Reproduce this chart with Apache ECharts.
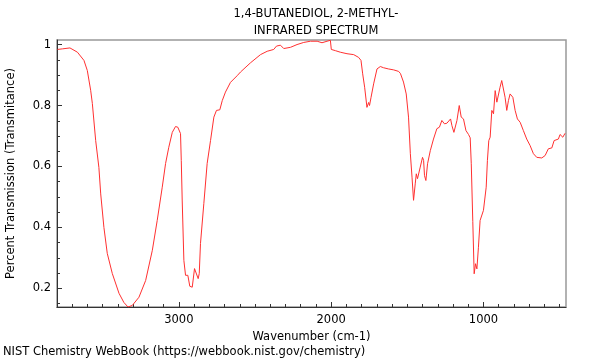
<!DOCTYPE html>
<html>
<head>
<meta charset="utf-8">
<script src="https://cdn.jsdelivr.net/npm/echarts@6/dist/echarts.min.js"></script>
<style>html,body{margin:0;padding:0;background:#fff}#c{width:600px;height:360px}</style>
</head>
<body>
<div id="c"></div>
<script>
const titleLines = ["1,4-BUTANEDIOL, 2-METHYL-", "INFRARED SPECTRUM"];
const xAxisName = "Wavenumber (cm-1)";
const yAxisName = "Percent Transmission (Transmitance)";
const footer = "NIST Chemistry WebBook (https://webbook.nist.gov/chemistry)";
const xMajorTicks = [1000, 2000, 3000];
const yMajorTicks = [0.2, 0.4, 0.6, 0.8, 1];
const xRange = [458, 3800];
const yRange = [0.139, 1.015];

const wavenumber = [3797,3763,3715,3666,3623,3601,3579,3568,3546,3525,3513,3492,3470,3437,3393,3361,3334,3306,3262,3218,3174,3142,3109,3087,3066,3043,3022,3007,2989,2984,2978,2967,2956,2941,2928,2912,2897,2884,2873,2866,2858,2836,2814,2792,2770,2753,2731,2715,2694,2661,2617,2595,2530,2464,2420,2377,2359,2333,2311,2267,2224,2180,2136,2092,2060,2027,2005,1999,1988,1972,1940,1896,1852,1820,1804,1793,1780,1765,1754,1748,1738,1721,1699,1677,1656,1623,1590,1557,1545,1525,1507,1492,1480,1469,1459,1448,1441,1433,1415,1400,1393,1387,1378,1367,1349,1328,1306,1289,1273,1256,1240,1229,1216,1207,1194,1186,1174,1159,1146,1131,1115,1098,1087,1080,1070,1061,1052,1043,1033,1022,1011,1000,982,974,965,956,945,938,934,923,912,902,891,880,869,858,847,836,825,807,792,777,759,738,716,694,672,650,617,595,574,551,536,508,497,479,464];
const transmittance = [0.984,0.986,0.989,0.975,0.948,0.915,0.85,0.807,0.685,0.597,0.51,0.40,0.315,0.249,0.184,0.154,0.139,0.144,0.171,0.226,0.325,0.423,0.532,0.61,0.663,0.712,0.731,0.729,0.708,0.62,0.49,0.292,0.243,0.243,0.207,0.204,0.265,0.259,0.232,0.249,0.347,0.478,0.61,0.685,0.762,0.784,0.786,0.816,0.844,0.876,0.898,0.91,0.94,0.967,0.978,0.984,0.995,0.998,0.987,0.991,1.0,1.007,1.011,1.011,1.006,1.011,1.014,0.984,0.98,0.98,0.975,0.97,0.967,0.958,0.948,0.904,0.86,0.794,0.81,0.80,0.827,0.871,0.92,0.928,0.924,0.92,0.917,0.912,0.905,0.877,0.838,0.762,0.642,0.565,0.489,0.543,0.576,0.56,0.598,0.63,0.62,0.57,0.554,0.609,0.652,0.69,0.724,0.729,0.751,0.74,0.742,0.738,0.756,0.734,0.712,0.709,0.751,0.80,0.762,0.756,0.718,0.705,0.694,0.609,0.42,0.248,0.281,0.264,0.335,0.423,0.417,0.456,0.532,0.62,0.685,0.696,0.784,0.789,0.773,0.849,0.811,0.806,0.86,0.882,0.876,0.827,0.784,0.816,0.838,0.827,0.784,0.756,0.745,0.718,0.69,0.669,0.642,0.63,0.628,0.636,0.658,0.661,0.685,0.69,0.705,0.696,0.709];

const xMinorTicks = [];
for (let v = 500; v <= 3800; v += 100) xMinorTicks.push(v);
const yMinorTicks = [];
for (let v = 15; v <= 100; v += 5) yMinorTicks.push(v / 100);

const data = wavenumber.map((w, i) => [w, transmittance[i]]);
const font = 'DejaVu Sans';
const fs = 11.5;
const chart = echarts.init(document.getElementById('c'), null, {renderer: 'canvas'});
const gridPos = {left: 57, right: 34, top: 40, bottom: 53};
chart.setOption({
  animation: false,
  backgroundColor: '#fff',
  title: {
    text: titleLines.join('\n'),
    left: 311, top: 1, textAlign: 'center',
    textStyle: {fontFamily: font, fontSize: fs, fontWeight: 'normal', color: '#000', lineHeight: 17}
  },
  graphic: [{
    type: 'text', left: 3, top: 346,
    style: {text: footer, fontFamily: font, fontSize: fs, fill: '#000'}
  }],
  grid: Object.assign({show: true, borderColor: '#999', borderWidth: 1.5, backgroundColor: 'transparent',
    containLabel: false, outerBoundsMode: 'none'}, gridPos),
  xAxis: [{
    type: 'value', inverse: true, min: xRange[0], max: xRange[1],
    position: 'bottom',
    name: xAxisName, nameLocation: 'middle', nameGap: 20,
    nameTextStyle: {fontFamily: font, fontSize: fs, color: '#000'},
    axisLine: {show: true, onZero: false, lineStyle: {color: '#333', width: 1}},
    axisTick: {show: true, inside: true, length: 5, customValues: xMajorTicks, lineStyle: {color: '#333'}},
    axisLabel: {show: true, customValues: xMajorTicks, margin: 7, fontFamily: font, fontSize: fs, color: '#000',
      formatter: v => String(v)},
    splitLine: {show: false}
  }, {
    type: 'value', inverse: true, min: xRange[0], max: xRange[1],
    position: 'bottom',
    axisLine: {show: false},
    axisTick: {show: true, inside: true, length: 3, customValues: xMinorTicks, lineStyle: {color: '#333'}},
    axisLabel: {show: false},
    splitLine: {show: false}
  }],
  yAxis: [{
    type: 'value', min: yRange[0], max: yRange[1],
    position: 'left',
    name: yAxisName, nameLocation: 'middle', nameGap: 40, nameRotate: 90,
    nameTextStyle: {fontFamily: font, fontSize: fs, color: '#000'},
    axisLine: {show: true, onZero: false, lineStyle: {color: '#333', width: 1}},
    axisTick: {show: true, inside: true, length: 5, customValues: yMajorTicks, lineStyle: {color: '#333'}},
    axisLabel: {show: true, customValues: yMajorTicks, margin: 6, fontFamily: font, fontSize: fs, color: '#000',
      formatter: v => String(Math.round(v * 10) / 10)},
    splitLine: {show: false}
  }, {
    type: 'value', min: yRange[0], max: yRange[1],
    position: 'left',
    axisLine: {show: false},
    axisTick: {show: true, inside: true, length: 3, customValues: yMinorTicks, lineStyle: {color: '#333'}},
    axisLabel: {show: false},
    splitLine: {show: false}
  }],
  series: [{
    type: 'line', data: data, xAxisIndex: 0, yAxisIndex: 0,
    showSymbol: false, symbol: 'none', smooth: false,
    lineStyle: {color: '#ff3030', width: 1},
    clip: true
  }]
});
</script>
</body>
</html>
